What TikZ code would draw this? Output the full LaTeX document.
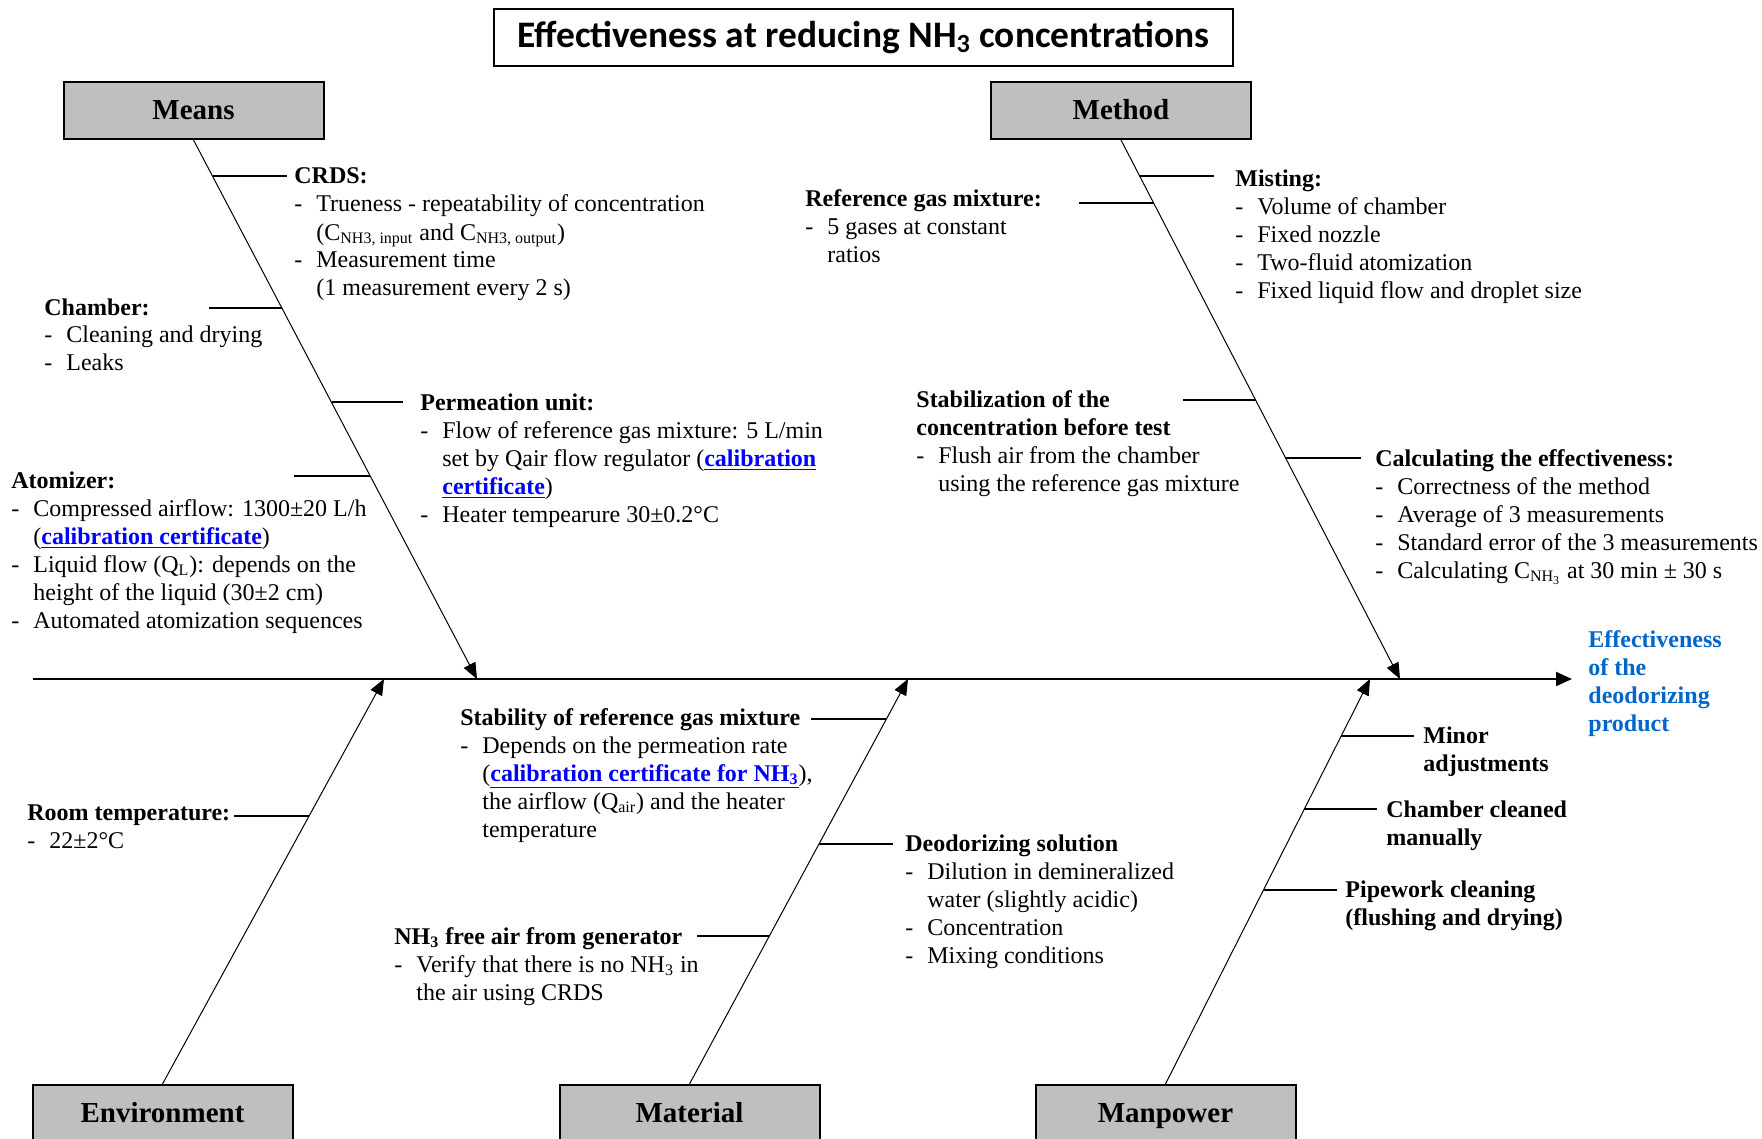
\documentclass[tikz,border=0pt]{standalone}
\usepackage{fontspec}
\setmainfont{Liberation Serif}
\newfontfamily\titlefont{Carlito}
\usepackage{xcolor}
\usetikzlibrary{arrows.meta,positioning}
\definecolor{fbgray}{RGB}{191,191,191}
\definecolor{fbblue}{RGB}{0,102,204}
\definecolor{fblink}{RGB}{0,0,255}
\newcommand{\dashitem}{\makebox[11pt][l]{-}}
\newcommand{\dashcont}{\hspace*{11pt}}
\newcommand{\calib}[1]{\textcolor{fblink}{\underline{\textbf{#1}}}}

\begin{document}
\begin{tikzpicture}[x=0.5pt, y=-0.5pt,
  cat/.style={draw, line width=1pt, fill=fbgray, minimum width=130pt,
              minimum height=28.5pt, inner sep=0pt, text height=11pt, text depth=1.8pt,
              font=\fontsize{14.5}{17}\selectfont\bfseries},
  txt/.style={anchor=base west, align=left, inner sep=0pt,
              font=\fontsize{12}{14}\selectfont},
  bone/.style={-{Triangle[length=8pt,width=6.5pt]}, line width=0.5pt},
  spine/.style={-{Triangle[length=8pt,width=7pt]}, line width=1pt},
  twig/.style={line width=0.6pt}
]
\useasboundingbox (0,0) rectangle (1762,1139);
\clip (0,0) rectangle (1762,1139);

% title
\node[draw, line width=1pt, minimum width=369.5pt, minimum height=28.5pt,
      font=\titlefont\fontsize{18.7}{22}\selectfont\bfseries]
  (title) at (863.5,37.5) {Effectiveness at reducing NH\textsubscript{3} concentrations};

% categories
\node[cat] (means) at (193.5,110.5) {Means};
\node[cat] (method) at (1121,110.5) {Method};
\node[cat, anchor=north] (env) at (162.5,1084) {Environment};
\node[cat, anchor=north] (material) at (689.5,1084) {Material};
\node[cat, anchor=north] (manpower) at (1165.5,1084) {Manpower};

% spine and bones
\coordinate (spineL) at (33,679);
\coordinate (spineR) at (1572,679);
\coordinate (meansTip) at (477,679);
\coordinate (methodTip) at (1400,679);
\coordinate (envTip) at (384,679);
\coordinate (materialTip) at (908,679);
\coordinate (manpowerTip) at (1370,679);
\draw[spine] (spineL) -- (spineR);
\draw[bone] (means.south) -- (meansTip);
\draw[bone] (method.south) -- (methodTip);
\draw[bone] (env.north) -- (envTip);
\draw[bone] (material.north) -- (materialTip);
\draw[bone] (manpower.north) -- (manpowerTip);

% (y of a text node = baseline of its last line)
\node[txt, font=\fontsize{12}{14}\selectfont\bfseries, text=fbblue]
  (effect) at (1588,731) {Effectiveness\\of the\\deodorizing\\product};

% Means
\node[txt] (crds) at (294,296) {\textbf{CRDS:}\\
  \dashitem Trueness - repeatability of concentration\\
  \dashcont (C\textsubscript{NH3, input} and C\textsubscript{NH3, output})\\
  \dashitem Measurement time\\
  \dashcont (1 measurement every 2 s)};
\coordinate (crdsJ) at (212.9,176);
\coordinate (crdsE) at (287,176);
\draw[twig] (crdsJ) -- (crdsE);

\node[txt] (chamber) at (44,371) {\textbf{Chamber:}\\
  \dashitem Cleaning and drying\\
  \dashitem Leaks};
\coordinate (chamberJ) at (282.2,308);
\coordinate (chamberE) at (209,308);
\draw[twig] (chamberJ) -- (chamberE);

\node[txt] (perm) at (420,522) {\textbf{Permeation unit:}\\
  \dashitem Flow of reference gas mixture: 5 L/min\\
  \dashcont set by Qair flow regulator (\calib{calibration}\\
  \dashcont \calib{certificate})\\
  \dashitem Heater tempearure 30±0.2°C};
\coordinate (permJ) at (331.6,402);
\coordinate (permE) at (403,402);
\draw[twig] (permJ) -- (permE);

\node[txt] (atom) at (11,628) {\textbf{Atomizer:}\\
  \dashitem Compressed airflow: 1300±20 L/h\\
  \dashcont (\calib{calibration certificate})\\
  \dashitem Liquid flow (Q\textsubscript{L}): depends on the\\
  \dashcont height of the liquid (30±2 cm)\\
  \dashitem Automated atomization sequences};
\coordinate (atomJ) at (370.4,476);
\coordinate (atomE) at (294,476);
\draw[twig] (atomJ) -- (atomE);

% Method
\node[txt] (refgas) at (805,263) {\textbf{Reference gas mixture:}\\
  \dashitem 5 gases at constant\\
  \dashcont ratios};
\coordinate (refgasJ) at (1154.1,203);
\coordinate (refgasE) at (1079,203);
\draw[twig] (refgasJ) -- (refgasE);

\node[txt] (misting) at (1235,299) {\textbf{Misting:}\\
  \dashitem Volume of chamber\\
  \dashitem Fixed nozzle\\
  \dashitem Two-fluid atomization\\
  \dashitem Fixed liquid flow and droplet size};
\coordinate (mistingJ) at (1140.1,176);
\coordinate (mistingE) at (1214,176);
\draw[twig] (mistingJ) -- (mistingE);

\node[txt] (stab) at (916,491) {\textbf{Stabilization of the}\\
  \textbf{concentration before test}\\
  \dashitem Flush air from the chamber\\
  \dashcont using the reference gas mixture};
\coordinate (stabJ) at (1255.9,400);
\coordinate (stabE) at (1183,400);
\draw[twig] (stabJ) -- (stabE);

\node[txt] (calc) at (1375,578) {\textbf{Calculating the effectiveness:}\\
  \dashitem Correctness of the method\\
  \dashitem Average of 3 measurements\\
  \dashitem Standard error of the 3 measurements\\
  \dashitem Calculating C\textsubscript{NH\textsubscript{3}} at 30 min ± 30 s};
\coordinate (calcJ) at (1285.8,458);
\coordinate (calcE) at (1361,458);
\draw[twig] (calcJ) -- (calcE);

% Environment
\node[txt] (room) at (27,848) {\textbf{Room temperature:}\\
  \dashitem 22±2°C};
\coordinate (roomJ) at (309.1,816);
\coordinate (roomE) at (234,816);
\draw[twig] (roomJ) -- (roomE);

% Material
\node[txt] (stability) at (460,837) {\textbf{Stability of reference gas mixture}\\
  \dashitem Depends on the permeation rate\\
  \dashcont (\calib{calibration certificate for NH\textsubscript{3}}),\\
  \dashcont the airflow (Q\textsubscript{air}) and the heater\\
  \dashcont temperature};
\coordinate (stabilityJ) at (886.4,719);
\coordinate (stabilityE) at (811,719);
\draw[twig] (stabilityJ) -- (stabilityE);

\node[txt] (deo) at (905,963) {\textbf{Deodorizing solution}\\
  \dashitem Dilution in demineralized\\
  \dashcont water (slightly acidic)\\
  \dashitem Concentration\\
  \dashitem Mixing conditions};
\coordinate (deoJ) at (819,844);
\coordinate (deoE) at (893,844);
\draw[twig] (deoJ) -- (deoE);

\node[txt] (nhfree) at (394,1000) {\textbf{NH\textsubscript{3} free air from generator}\\
  \dashitem Verify that there is no NH\textsubscript{3} in\\
  \dashcont the air using CRDS};
\coordinate (nhfreeJ) at (769.3,936);
\coordinate (nhfreeE) at (697,936);
\draw[twig] (nhfreeJ) -- (nhfreeE);

% Manpower
\node[txt, font=\fontsize{12}{14}\selectfont\bfseries] (minor) at (1423,771) {Minor\\adjustments};
\coordinate (minorJ) at (1341.2,736);
\coordinate (minorE) at (1414,736);
\draw[twig] (minorJ) -- (minorE);

\node[txt, font=\fontsize{12}{14}\selectfont\bfseries] (cleaned) at (1386,845) {Chamber cleaned\\manually};
\coordinate (cleanedJ) at (1304.3,809);
\coordinate (cleanedE) at (1377,809);
\draw[twig] (cleanedJ) -- (cleanedE);

\node[txt, font=\fontsize{12}{14}\selectfont\bfseries] (pipe) at (1345,925) {Pipework cleaning\\(flushing and drying)};
\coordinate (pipeJ) at (1263.5,890);
\coordinate (pipeE) at (1337,890);
\draw[twig] (pipeJ) -- (pipeE);
\end{tikzpicture}
\end{document}
